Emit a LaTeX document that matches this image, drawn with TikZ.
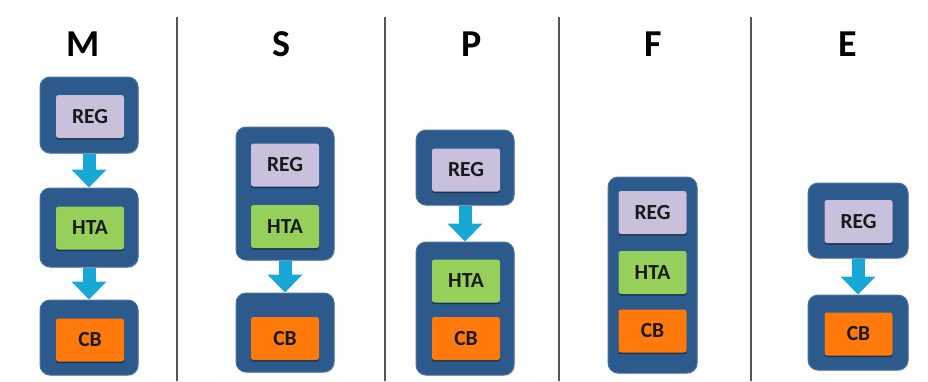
\documentclass[tikz,border=0pt]{standalone}
\usepackage{fontspec}
\setmainfont{Carlito}
\usetikzlibrary{arrows.meta,shadows}

\definecolor{frameblue}{RGB}{44,90,141}
\definecolor{regfill}{RGB}{201,192,219}
\definecolor{htafill}{RGB}{150,208,90}
\definecolor{cbfill}{RGB}{255,122,10}
\definecolor{flowcyan}{RGB}{24,168,214}
\definecolor{rulegray}{RGB}{85,85,85}

\tikzset{
  frame/.style={draw=frameblue!85!white, line width=1pt, fill=frameblue,
    rounded corners=10pt, minimum width=#1, inner sep=0pt,
    drop shadow={shadow xshift=0.8pt, shadow yshift=-1.2pt, opacity=0.25}},
  frame/.default=98pt,
  unit/.style={draw=none, rounded corners=2.5pt, minimum width=68pt,
    minimum height=43pt, inner sep=0pt, font=\bfseries\fontsize{21.5}{23}\selectfont,
    text=black!90,
    drop shadow={shadow xshift=0pt, shadow yshift=-1.6pt, opacity=0.45, fill=black}},
  reg/.style={unit, fill=regfill},
  hta/.style={unit, fill=htafill},
  cb/.style={unit, fill=cbfill},
  title/.style={font=\bfseries\fontsize{38}{40}\selectfont, text=black},
  flow/.style={draw=flowcyan, line width=13pt,
    -{Triangle[width=34pt,length=18pt]}},
  divider/.style={draw=rulegray, line width=2pt}
}

\begin{document}
\begin{tikzpicture}[x=1pt,y=-1pt]
  \useasboundingbox (0,0) rectangle (928,381);

  % column dividers
  \coordinate (d1t) at (177,17);  \coordinate (d1b) at (177,381);
  \coordinate (d2t) at (385,17);  \coordinate (d2b) at (385,381);
  \coordinate (d3t) at (559,17);  \coordinate (d3b) at (559,381);
  \coordinate (d4t) at (751,17);  \coordinate (d4b) at (751,381);
  \draw[divider] (d1t) -- (d1b);
  \draw[divider] (d2t) -- (d2b);
  \draw[divider] (d3t) -- (d3b);
  \draw[divider] (d4t) -- (d4b);

  % titles
  \node[title] (tM) at (83,44) {M};
  \node[title] (tS) at (281,44) {S};
  \node[title] (tP) at (472,44) {P};
  \node[title] (tF) at (653,44) {F};
  \node[title] (tE) at (848,44) {E};

  % ---- M: three separate stages
  \node[frame, minimum height=76pt] (mA) at (89,115) {};
  \node[reg] (mReg) at (90,116.5) {REG};
  \node[frame, minimum height=79pt] (mB) at (89,227.5) {};
  \node[hta] (mHta) at (90,228) {HTA};
  \node[frame, minimum height=75pt] (mC) at (89,337.5) {};
  \node[cb] (mCb) at (90,340) {CB};
  \draw[flow] (mA.south) -- (mB.north);
  \draw[flow] (mB.south) -- (mC.north);

  % ---- S: REG+HTA merged, then CB
  \node[frame, minimum height=133pt] (sA) at (285,193.5) {};
  \node[reg] (sReg) at (285,165) {REG};
  \node[hta] (sHta) at (285,226.5) {HTA};
  \node[frame, minimum height=79pt] (sB) at (285,332.5) {};
  \node[cb] (sCb) at (285,338.5) {CB};
  \draw[flow] (sA.south) -- (sB.north);

  % ---- P: REG, then HTA+CB merged
  \node[frame, minimum height=75pt] (pA) at (465,167.5) {};
  \node[reg] (pReg) at (466,170) {REG};
  \node[frame, minimum height=133pt] (pB) at (465,308.5) {};
  \node[hta] (pHta) at (466,281) {HTA};
  \node[cb] (pCb) at (466,338.5) {CB};
  \draw[flow] (pA.south) -- (pB.north);

  % ---- F: everything in one stage
  \node[frame=89pt, minimum height=196pt] (fA) at (652.5,275) {};
  \node[reg] (fReg) at (652.5,212.5) {REG};
  \node[hta] (fHta) at (652.5,272.5) {HTA};
  \node[cb] (fCb) at (652.5,331) {CB};

  % ---- E: REG, then CB
  \node[frame=100pt, minimum height=75pt] (eA) at (858,220.5) {};
  \node[reg] (eReg) at (858.5,221.5) {REG};
  \node[frame=100pt, minimum height=75pt] (eB) at (858,332.5) {};
  \node[cb] (eCb) at (858.5,334) {CB};
  \draw[flow] (eA.south) -- (eB.north);
\end{tikzpicture}
\end{document}
